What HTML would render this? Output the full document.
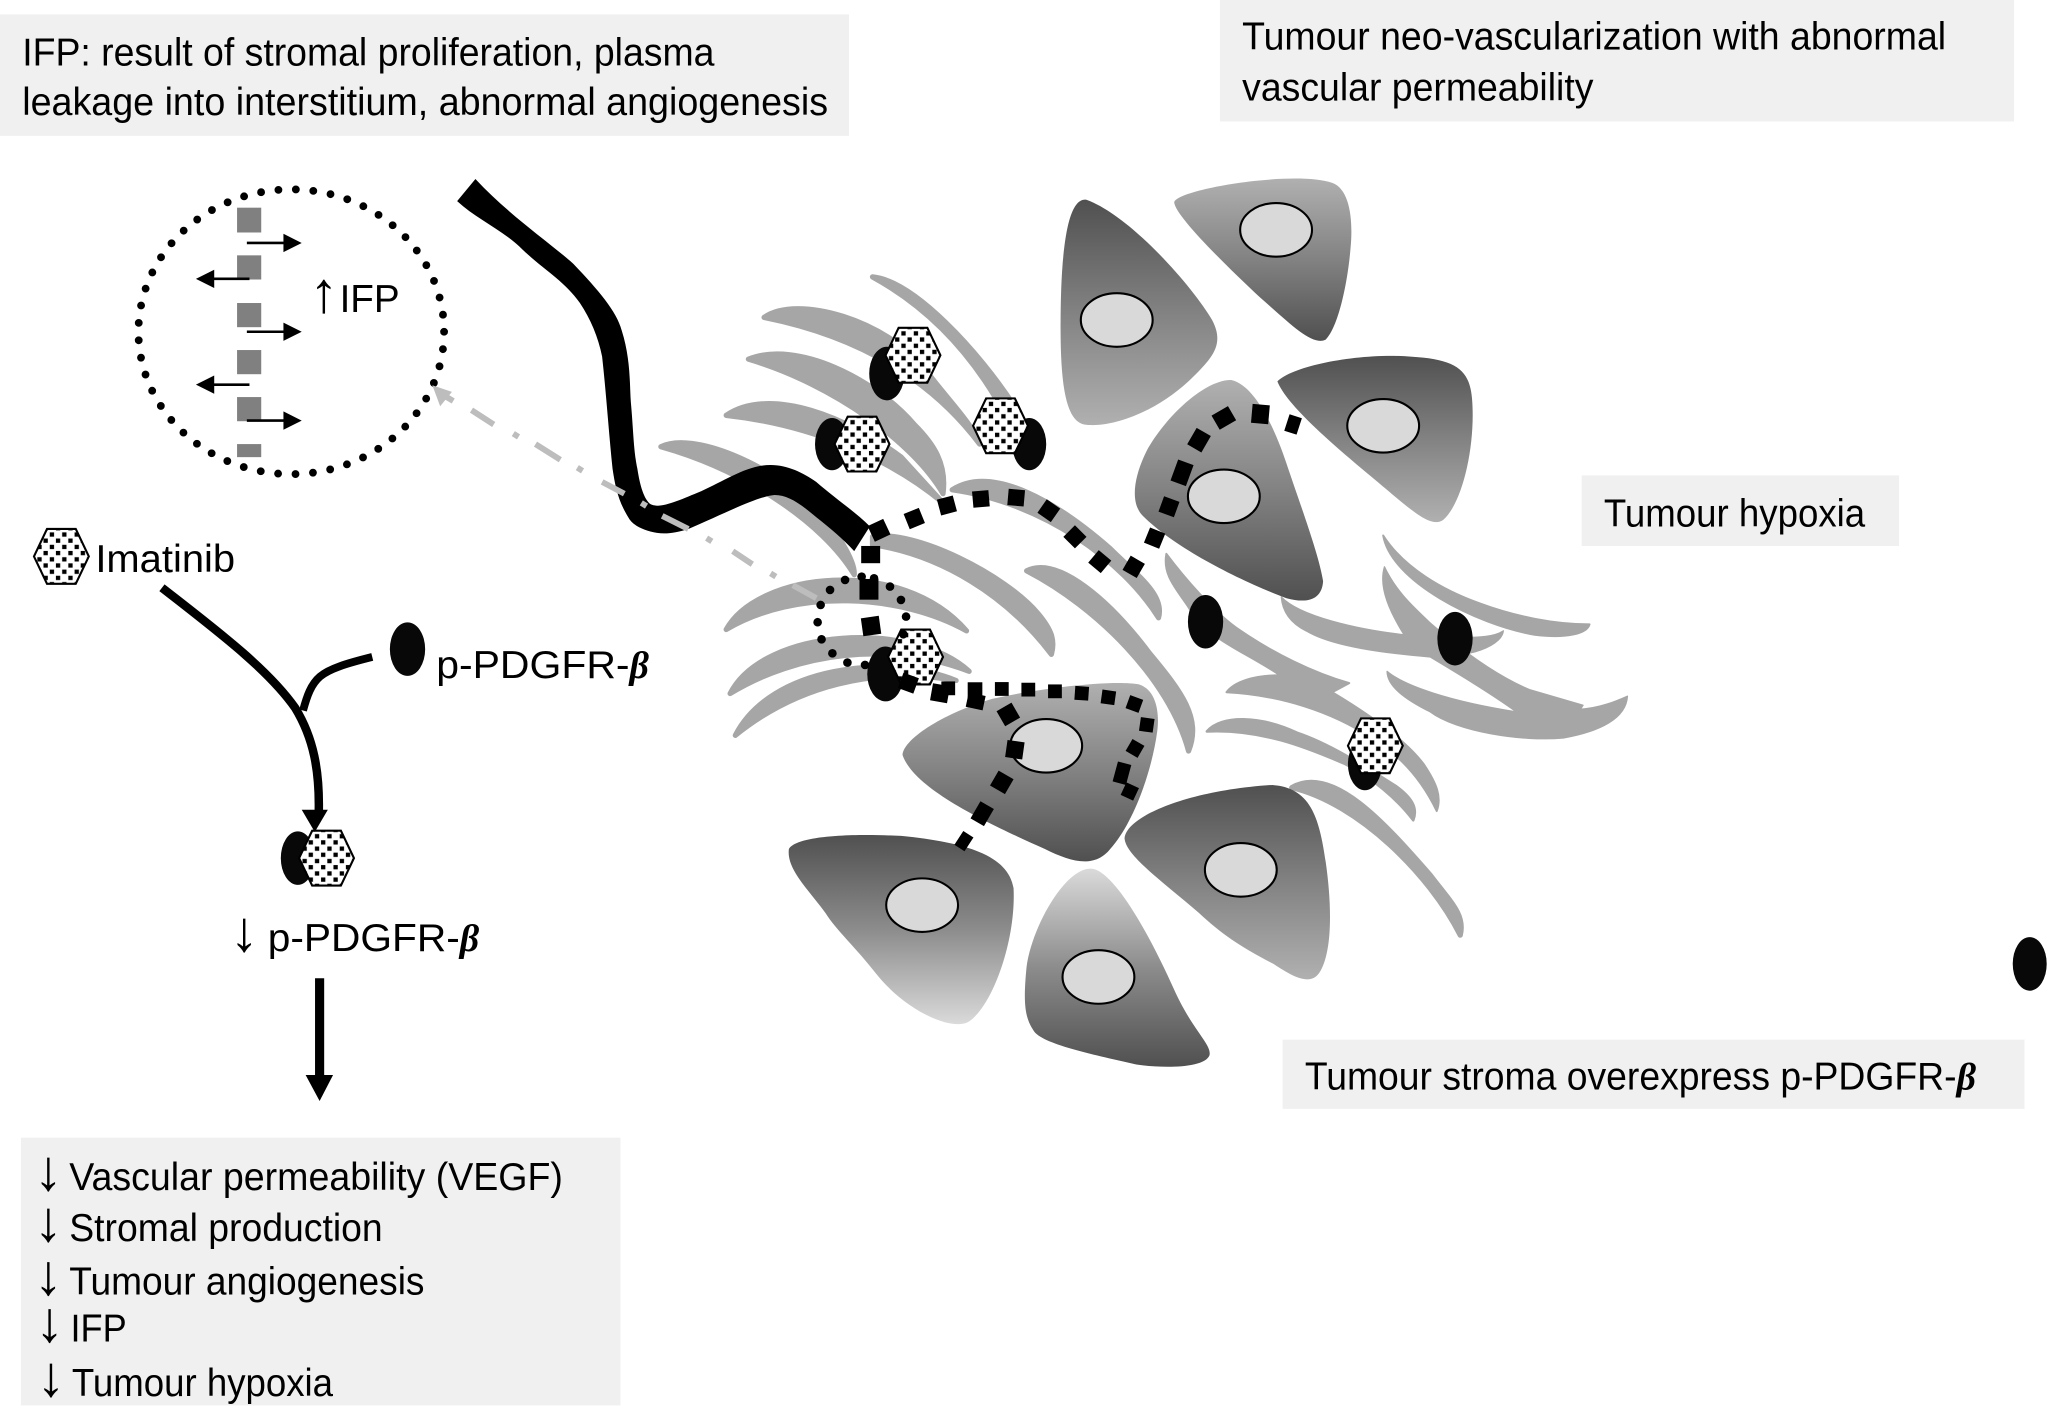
<!DOCTYPE html>
<html><head><meta charset="utf-8"><style>
html,body{margin:0;padding:0;background:#fff}
svg{display:block}
text{font-family:"Liberation Sans",sans-serif;font-size:30px;fill:#000}
.b{font-family:"Liberation Serif",serif;font-weight:bold;font-style:italic;font-size:29px}
.a{font-size:44px;text-anchor:middle}
</style></head><body>
<svg width="2048" height="1408" viewBox="0 0 1568 1078" xmlns="http://www.w3.org/2000/svg">
<defs>
<linearGradient id="dl" x1="0" y1="0" x2="0" y2="1"><stop offset="0" stop-color="#505050"/><stop offset="0.5" stop-color="#828282"/><stop offset="1" stop-color="#b0b0b0"/></linearGradient>
<linearGradient id="ld" x1="0" y1="0" x2="0" y2="1"><stop offset="0" stop-color="#b0b0b0"/><stop offset="0.5" stop-color="#828282"/><stop offset="1" stop-color="#505050"/></linearGradient>
<linearGradient id="dw" x1="0" y1="0" x2="0" y2="1"><stop offset="0" stop-color="#505050"/><stop offset="0.5" stop-color="#8c8c8c"/><stop offset="1" stop-color="#dadada"/></linearGradient>
<linearGradient id="wd" x1="0" y1="0" x2="0" y2="1"><stop offset="0" stop-color="#dadada"/><stop offset="0.5" stop-color="#8c8c8c"/><stop offset="1" stop-color="#505050"/></linearGradient>
<pattern id="dots" width="9.5" height="9.5" patternUnits="userSpaceOnUse"><rect width="9.5" height="9.5" fill="#fff"/><rect x="0.6" y="0.6" width="3.3" height="3.3" fill="#000"/><rect x="5.3" y="5.3" width="3.3" height="3.3" fill="#000"/></pattern>
<path id="hex" d="M-21 0L-11 -21H11L21 0L11 21H-11Z" fill="url(#dots)" stroke="#000" stroke-width="1.6"/>
<rect id="s" x="-6.6" y="-6.6" width="13.2" height="13.2" fill="#000"/>
</defs>

<!-- label boxes -->
<g fill="#f0f0f0">
<rect x="0" y="11" width="650" height="93"/>
<rect x="934" y="0" width="608" height="93"/>
<rect x="1211" y="364" width="243" height="54"/>
<rect x="982" y="796" width="568" height="53"/>
<rect x="16" y="871" width="459" height="205"/>
</g>
<text x="17" y="50" textLength="530" lengthAdjust="spacingAndGlyphs">IFP: result of stromal proliferation, plasma</text>
<text x="17" y="88" textLength="617" lengthAdjust="spacingAndGlyphs">leakage into interstitium, abnormal angiogenesis</text>
<text x="951" y="38" textLength="539" lengthAdjust="spacingAndGlyphs">Tumour neo-vascularization with abnormal</text>
<text x="951" y="77" textLength="269" lengthAdjust="spacingAndGlyphs">vascular permeability</text>
<text x="1228" y="403" textLength="200" lengthAdjust="spacingAndGlyphs">Tumour hypoxia</text>
<text x="999" y="834" textLength="499" lengthAdjust="spacingAndGlyphs">Tumour stroma overexpress p-PDGFR-</text>
<text class="b" x="1498" y="834">β</text>

<!-- stromal fibres -->
<g fill="#a6a6a6" stroke="#a6a6a6" stroke-width="4" stroke-linejoin="round">
<path d="M668 212C700 215 750 270 776 310L772 322C745 270 710 235 668 212Z"/>
<path d="M585 243C610 225 680 245 710 285C725 305 745 325 750 340C720 300 670 260 585 243Z"/>
<path d="M573 275C610 260 670 290 700 325C715 340 725 355 722 378C700 340 640 295 573 275Z"/>
<path d="M556 318C590 295 650 320 690 350L722 385C680 350 620 325 556 318Z"/>
<path d="M506 342C530 330 590 355 625 390C640 405 655 430 654 440C630 400 570 360 506 342Z"/>
<path d="M668 411C700 405 770 440 795 470C805 482 808 490 805 501C770 455 720 425 668 417Z"/>
<path d="M786 437C810 425 850 460 880 500C905 530 920 550 910 575C895 520 840 465 786 437Z"/>
<path d="M729 375C760 355 810 385 850 420C870 440 892 455 887 473C860 430 800 385 729 375Z"/>
<path d="M556 482C580 438 690 425 740 483C690 455 610 450 556 482Z"/>
<path d="M559 531C585 480 700 475 742 514C680 490 610 500 559 531Z"/>
<path d="M563 563C590 510 680 500 732 521C670 510 610 525 563 563Z"/>
<path stroke-width="1.5" d="M893 424C905 440 930 470 950 483C975 500 1005 515 1033 523L1020 530C1045 545 1075 565 1090 585C1100 600 1104 610 1100 621C1090 600 1075 580 1050 565C1020 545 980 532 939 530C945 522 960 517 980 517C950 497 925 490 910 465C900 450 890 440 893 424Z"/>
<path stroke-width="2" d="M924 560C935 547 965 548 993 561C1020 570 1050 590 1069 602C1080 610 1086 618 1082 628C1070 612 1050 595 1030 585C1000 572 965 558 924 560Z"/>
<path d="M989 603C1020 585 1060 630 1095 670C1110 690 1122 700 1118 716C1095 670 1040 615 989 603Z"/>
<path stroke-width="1.5" d="M1059 410C1075 435 1105 452 1133 462C1160 472 1190 478 1217 478C1215 485 1200 489 1175 486C1130 478 1065 445 1059 410Z"/>
<path stroke-width="1" d="M981 457C995 472 1040 482 1075 486C1065 470 1055 450 1060 434C1070 455 1085 467 1095 477C1110 490 1140 515 1171 528L1212 540L1210 543C1225 542 1237 537 1246 533C1245 550 1225 560 1197 565C1165 568 1115 560 1095 545C1075 535 1062 525 1062 514C1075 525 1110 537 1161 545C1140 530 1115 515 1095 503C1060 500 1020 495 1000 483C990 478 982 470 981 457Z"/>
<path stroke-width="1" d="M1125 488C1135 488 1145 487 1151 483C1150 492 1135 498 1125 500Z"/>
</g>

<!-- tumour cells -->
<path fill="url(#dl)" d="M832 153C865 165 912 218 928 245C938 264 928 274 912 290C885 316 850 328 830 325C815 322 812 290 812 250C812 205 815 150 832 153Z"/>
<path fill="url(#ld)" d="M899 155C900 145 990 130 1020 140C1034 145 1036 170 1034 190C1032 215 1025 250 1015 260C1005 265 990 250 965 228C935 200 900 165 899 155Z"/>
<path fill="url(#dl)" d="M978 292C990 280 1040 270 1080 273C1115 275 1125 283 1127 305C1130 340 1120 385 1105 398C1095 405 1080 390 1050 365C1020 340 985 310 978 292Z"/>
<path fill="url(#ld)" d="M943 291C960 295 975 325 985 355C995 385 1010 425 1013 445C1012 460 1000 462 985 458C950 445 900 420 875 395C865 385 868 365 878 345C895 315 925 290 943 291Z"/>
<path fill="url(#ld)" d="M872 524C885 528 888 545 886 560C882 590 868 630 850 650C838 665 820 660 800 650C760 632 700 605 691 578C692 565 725 545 760 535C790 528 850 520 872 524Z"/>
<path fill="url(#dw)" d="M604 650C610 640 650 638 690 640C740 645 772 655 776 680C778 720 760 770 742 782C730 790 695 775 672 747C655 725 640 712 632 699C618 680 602 665 604 650Z"/>
<path fill="url(#wd)" d="M835 665C852 665 880 715 900 760C914 790 928 800 926 808C922 818 890 818 870 815C840 808 800 800 792 790C785 780 783 770 786 740C790 710 815 665 835 665Z"/>
<path fill="url(#dl)" d="M974 601C1003 603 1010 625 1015 660C1020 695 1020 730 1010 745C1003 755 990 748 975 738C950 725 935 715 918 699C890 675 862 655 861 642C862 625 910 605 974 601Z"/>
<g fill="#d9d9d9" stroke="#000" stroke-width="1.6">
<ellipse cx="855" cy="245" rx="27.5" ry="20.5"/>
<ellipse cx="977" cy="176" rx="27.5" ry="20.5"/>
<ellipse cx="1059" cy="326" rx="27.5" ry="20.5"/>
<ellipse cx="937" cy="380" rx="27.5" ry="20.5"/>
<ellipse cx="801" cy="571" rx="27.5" ry="20.5"/>
<ellipse cx="706" cy="693" rx="27.5" ry="20.5"/>
<ellipse cx="841" cy="748" rx="27.5" ry="20.5"/>
<ellipse cx="950" cy="666" rx="27.5" ry="20.5"/>
</g>

<!-- solid vessel -->
<path fill="#000" d="M364 137C390 165 420 185 439 202C458 222 472 238 476 253C483 275 482 295 483 308C485 330 485 345 488 359C490 372 493 382 498 386C505 390 520 383 537 376C555 368 572 356 590 356C603 356 615 362 625 369C640 382 655 392 666 403L654 422C645 412 635 404 625 396C612 385 603 379 593 379C580 380 555 393 527 405C518 408 510 409 503 408C492 406 484 402 481 396C473 383 471 372 469 359C466 330 464 300 461 273C458 258 452 244 444 232C432 215 418 208 400 191C385 176 365 168 350 154Z"/>

<!-- receptors / drugs in stroma -->
<g fill="#080808">
<ellipse cx="679" cy="286" rx="13.5" ry="20.5"/>
<ellipse cx="637" cy="340" rx="13" ry="20"/>
<ellipse cx="788" cy="340" rx="13" ry="20"/>
<ellipse cx="678" cy="516" rx="14" ry="21"/>
<ellipse cx="1045" cy="585" rx="13" ry="20"/>
<ellipse cx="923" cy="476" rx="13.5" ry="20.5"/>
<ellipse cx="1114" cy="489" rx="13.5" ry="20.5"/>
<ellipse cx="1554" cy="738" rx="13" ry="20.5"/>
<ellipse cx="312" cy="497" rx="13.5" ry="20.5"/>
<ellipse cx="228" cy="657" rx="13" ry="20.5"/>
</g>
<use href="#hex" transform="translate(699,272)"/>
<use href="#hex" transform="translate(660,340)"/>
<use href="#hex" transform="translate(766,326)"/>
<use href="#hex" transform="translate(701,503)"/>
<use href="#hex" transform="translate(1053,571)"/>
<use href="#hex" transform="translate(47,426)"/>
<use href="#hex" transform="translate(250,657)"/>

<!-- small dotted circle -->
<g fill="#000">
<circle cx="628.3" cy="463.2" r="3.3"/><circle cx="635.5" cy="451.7" r="3.3"/><circle cx="647" cy="444" r="3.3"/><circle cx="659.7" cy="441.5" r="3.3"/><circle cx="669.2" cy="442.8" r="3.3"/><circle cx="681.4" cy="449.1" r="3.3"/><circle cx="689.8" cy="459.3" r="3.3"/><circle cx="693.7" cy="472.1" r="3.3"/><circle cx="626" cy="476.4" r="3.3"/><circle cx="629" cy="489.5" r="3.3"/><circle cx="637.3" cy="500.2" r="3.3"/><circle cx="648.8" cy="507.3" r="3.3"/><circle cx="662.3" cy="509.1" r="3.3"/><circle cx="691.6" cy="485.6" r="3.3"/>
</g>

<!-- dashed leaky vessels -->
<g>
<use href="#s" transform="translate(673,406) rotate(-25)"/>
<use href="#s" transform="translate(700,397) rotate(-22) scale(.95)"/>
<use href="#s" transform="translate(725,387) rotate(-15) scale(.95)"/>
<use href="#s" transform="translate(751,382) rotate(-5) scale(.95)"/>
<use href="#s" transform="translate(778,381) rotate(5) scale(.95)"/>
<use href="#s" transform="translate(803,391) rotate(35) scale(.95)"/>
<use href="#s" transform="translate(823,411) rotate(45) scale(.95)"/>
<use href="#s" transform="translate(842,430) rotate(40) scale(.95)"/>
<use href="#s" transform="translate(868,434) rotate(30) scale(.95)"/>
<use href="#s" transform="translate(884,412) rotate(22) scale(.95)"/>
<use href="#s" transform="translate(895,388) rotate(20) scale(.95)"/>
<use href="#s" transform="translate(905,362) rotate(20) scale(.95,1.3)"/>
<use href="#s" transform="translate(918,337) rotate(30) scale(.95,1.1)"/>
<use href="#s" transform="translate(937,320) rotate(60) scale(.95,1.1)"/>
<use href="#s" transform="translate(965,317) rotate(5) scale(1,1.1)"/>
<use href="#s" transform="translate(990,325) rotate(18) scale(.75,1)"/>
<use href="#s" transform="translate(666.6,424.6) scale(1.1,1)"/>
<use href="#s" transform="translate(665.3,451.2) scale(1.1,1.2)"/>
<use href="#s" transform="translate(666.9,479.3) rotate(-8) scale(1.05)"/>
<use href="#s" transform="translate(695.5,523) rotate(20) scale(.95)"/>
<use href="#s" transform="translate(719.7,530.8) rotate(10) scale(1)"/>
<use href="#s" transform="translate(726,527) scale(.8)"/>
<use href="#s" transform="translate(746.5,528.3) scale(.85,.9)"/>
<use href="#s" transform="translate(747,537) rotate(12) scale(1,.85)"/>
<use href="#s" transform="translate(767,527.5) scale(.8)"/>
<use href="#s" transform="translate(787.3,528) scale(.8)"/>
<use href="#s" transform="translate(807.7,529.3) scale(.8)"/>
<use href="#s" transform="translate(828.2,530.8) rotate(4) scale(.8)"/>
<use href="#s" transform="translate(848.6,533.9) rotate(8) scale(.8)"/>
<use href="#s" transform="translate(868.5,539) rotate(20) scale(.8)"/>
<use href="#s" transform="translate(878,555) rotate(8) scale(.8)"/>
<use href="#s" transform="translate(869,573) rotate(30) scale(.8)"/>
<use href="#s" transform="translate(859,592) rotate(15) scale(.8,1.2)"/>
<use href="#s" transform="translate(865,606) rotate(25) scale(.8)"/>
<use href="#s" transform="translate(772,547) rotate(-30) scale(1)"/>
<use href="#s" transform="translate(777,574) rotate(8) scale(1)"/>
<use href="#s" transform="translate(767,599) rotate(30) scale(1)"/>
<use href="#s" transform="translate(752,623) rotate(30) scale(.9,1.15)"/>
<use href="#s" transform="translate(738,644) rotate(33) scale(.7,.95)"/>
</g>

<!-- IFP circle -->
<ellipse cx="223" cy="254" rx="117" ry="109" fill="none" stroke="#000" stroke-width="6" stroke-linecap="round" stroke-dasharray="0 13.4"/>
<g fill="#808080">
<rect x="181.5" y="159" width="18.5" height="19"/>
<rect x="181.5" y="195.5" width="18.5" height="18.5"/>
<rect x="181.5" y="232" width="18.5" height="18.5"/>
<rect x="181.5" y="268" width="18.5" height="18.5"/>
<rect x="181.5" y="304" width="18.5" height="18.5"/>
<rect x="181.5" y="340" width="18.5" height="10"/>
</g>
<g stroke="#000" stroke-width="2" fill="#000">
<path d="M189 186H222"/><path d="M217 179L231 186L217 193Z" stroke="none"/>
<path d="M189 254H222"/><path d="M217 247L231 254L217 261Z" stroke="none"/>
<path d="M189 322H222"/><path d="M217 315L231 322L217 329Z" stroke="none"/>
<path d="M191 213.5H158"/><path d="M164 206.5L150 213.5L164 220.5Z" stroke="none"/>
<path d="M191 294.5H158"/><path d="M164 287.5L150 294.5L164 301.5Z" stroke="none"/>
</g>
<text class="a" x="248" y="239">↑</text>
<text x="260" y="239" textLength="46" lengthAdjust="spacingAndGlyphs">IFP</text>

<!-- grey dash-dot arrow -->
<g stroke="#bdbdbd" stroke-width="4.5" fill="none">
<path d="M342 304L347 307M361 314L378 325M393 332L397 334.5M410 340L429 352M442 358L446 360.5M461 369L478 378M491 385L495 387.5M507 395L527 405M541 412L545 414.5M561 422L576 432M590 439L594 441.5M607 448L625 458"/>
</g>
<path d="M331 295L346 300L337 311Z" fill="#bdbdbd"/>

<!-- left flow -->
<text x="73" y="438" textLength="107" lengthAdjust="spacingAndGlyphs">Imatinib</text>
<path d="M124 450C165 482 205 512 226 542C240 565 245 590 244 624" fill="none" stroke="#000" stroke-width="6.5"/>
<path d="M285 503C265 508 252 512 245 518C238 524 235 533 232 544" fill="none" stroke="#000" stroke-width="6"/>
<path d="M231 620H251L241 637Z" fill="#000"/>
<text x="334" y="519" textLength="148" lengthAdjust="spacingAndGlyphs">p-PDGFR-</text>
<text class="b" x="482" y="519">β</text>
<text class="a" x="187" y="728">↓</text>
<text x="205" y="728" textLength="147" lengthAdjust="spacingAndGlyphs">p-PDGFR-</text>
<text class="b" x="352" y="728">β</text>
<path d="M244.7 749V825" stroke="#000" stroke-width="7" fill="none"/>
<path d="M234 823H255L244.7 843Z" fill="#000"/>

<text class="a" x="37" y="911">↓</text>
<text x="53" y="911" textLength="378" lengthAdjust="spacingAndGlyphs">Vascular permeability (VEGF)</text>
<text class="a" x="37" y="950">↓</text>
<text x="53" y="950" textLength="240" lengthAdjust="spacingAndGlyphs">Stromal production</text>
<text class="a" x="37" y="991">↓</text>
<text x="53" y="991" textLength="272" lengthAdjust="spacingAndGlyphs">Tumour angiogenesis</text>
<text class="a" x="38" y="1027">↓</text>
<text x="54" y="1027" textLength="43" lengthAdjust="spacingAndGlyphs">IFP</text>
<text class="a" x="39" y="1069">↓</text>
<text x="55" y="1069" textLength="200" lengthAdjust="spacingAndGlyphs">Tumour hypoxia</text>
</svg>
</body></html>
